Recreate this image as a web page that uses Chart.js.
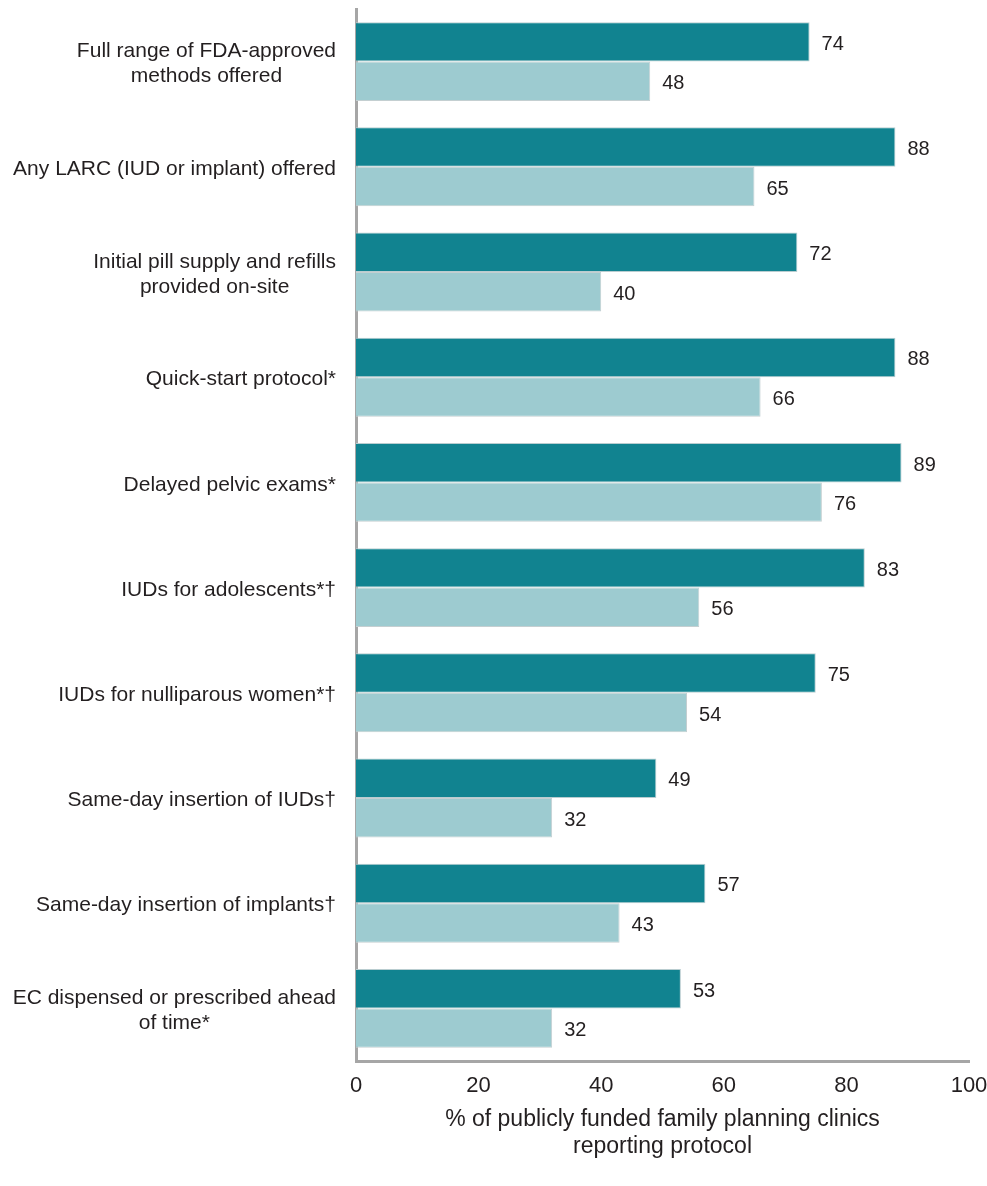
<!DOCTYPE html>
<html>
<head>
<meta charset="utf-8">
<script src="https://cdn.jsdelivr.net/npm/chart.js@4"></script>
<style>
  body { margin: 0; background: #fff; }
</style>
</head>
<body>
<canvas id="chart" width="987" height="1186"></canvas>
<script>
const categories = [
  ["Full range of FDA-approved", "methods offered"],
  ["Any LARC (IUD or implant) offered"],
  ["Initial pill supply and refills", "provided on-site"],
  ["Quick-start protocol*"],
  ["Delayed pelvic exams*"],
  ["IUDs for adolescents*†"],
  ["IUDs for nulliparous women*†"],
  ["Same-day insertion of IUDs†"],
  ["Same-day insertion of implants†"],
  ["EC dispensed or prescribed ahead", "of time*"]
];
const darkValues = [74, 88, 72, 88, 89, 83, 75, 49, 57, 53];
const lightValues = [48, 65, 40, 66, 76, 56, 54, 32, 43, 32];
const xTicks = [0, 20, 40, 60, 80, 100];
const axisTitle = ["% of publicly funded family planning clinics", "reporting protocol"];

const family = '"Liberation Sans", Arial, sans-serif';
const textColor = '#231f20';
const axisColor = '#a6a6a6';

// category names on the left and the value at the end of each bar
const drawLabels = {
  id: 'drawLabels',
  afterDatasetsDraw(chart) {
    const ctx = chart.ctx;
    const yScale = chart.scales.y;
    ctx.save();
    ctx.fillStyle = textColor;
    ctx.textBaseline = 'middle';

    ctx.font = '21px ' + family;
    ctx.textAlign = 'center';
    categories.forEach((lines, i) => {
      const y = yScale.getPixelForValue(i) + 2.5;
      const w = Math.max(...lines.map(l => ctx.measureText(l).width));
      const cx = yScale.right - 20 - w / 2;
      lines.forEach((line, j) => {
        ctx.fillText(line, cx, y + (j - (lines.length - 1) / 2) * 25);
      });
    });

    ctx.font = '20px ' + family;
    ctx.textAlign = 'left';
    chart.data.datasets.forEach((ds, di) => {
      chart.getDatasetMeta(di).data.forEach((bar, i) => {
        ctx.fillText(ds.data[i], bar.x + 12, bar.y + 2.5);
      });
    });
    ctx.restore();
  }
};

new Chart(document.getElementById('chart'), {
  type: 'bar',
  data: {
    labels: categories,
    datasets: [
      {
        label: 'Group 1',
        data: darkValues,
        backgroundColor: '#118390',
        borderColor: '#b9cdd0',
        borderWidth: 1,
        categoryPercentage: 0.75,
        barPercentage: 1
      },
      {
        label: 'Group 2',
        data: lightValues,
        backgroundColor: '#9dcbd0',
        borderColor: '#c4cfd1',
        borderWidth: 1,
        categoryPercentage: 0.75,
        barPercentage: 1
      }
    ]
  },
  options: {
    indexAxis: 'y',
    responsive: false,
    animation: false,
    layout: { padding: { top: 9, right: 0, left: 0, bottom: 0 } },
    plugins: {
      legend: { display: false },
      tooltip: { enabled: false }
    },
    scales: {
      x: {
        min: 0,
        max: 100,
        afterBuildTicks: s => { s.ticks = xTicks.map(v => ({ value: v })); },
        // fixed height; leave just enough room on the right for "100"
        afterFit: s => { s.height = 125; s.paddingRight = 18; },
        grid: { display: false, drawTicks: false },
        border: { color: axisColor, width: 3 },
        ticks: { padding: 12, color: textColor, font: { family: family, size: 22 } },
        title: {
          display: true,
          text: axisTitle,
          color: textColor,
          font: { family: family, size: 23, lineHeight: 1.17 },
          padding: { top: 0, bottom: 26 }
        }
      },
      y: {
        afterFit: s => { s.width = 356; },
        grid: { display: false, drawTicks: false },
        border: { color: axisColor, width: 3 },
        ticks: { display: false }
      }
    }
  },
  plugins: [drawLabels]
});
</script>
</body>
</html>
